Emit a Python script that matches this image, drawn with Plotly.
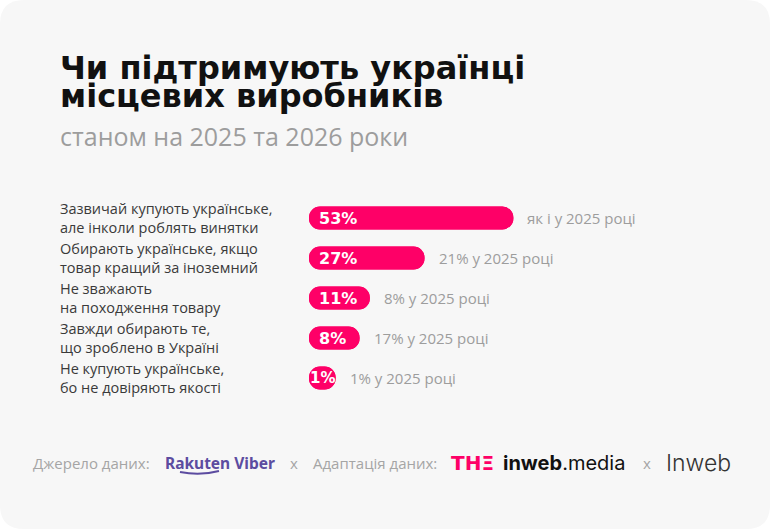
import plotly.graph_objects as go

# ---------------- data ----------------
categories = [
    "Зазвичай купують українське,<br>але інколи роблять винятки",
    "Обирають українське, якщо<br>товар кращий за іноземний",
    "Не зважають<br>на походження товару",
    "Завжди обирають те,<br>що зроблено в Україні",
    "Не купують українське,<br>бо не довіряють якості",
]
values_2026 = [53, 27, 11, 8, 1]
values_2025 = [53, 21, 8, 17, 1]
notes_2025 = ["як і у 2025 році", "21% у 2025 році", "8% у 2025 році",
              "17% у 2025 році", "1% у 2025 році"]

title_lines = ["Чи підтримують українці", "місцевих виробників"]
subtitle = "станом на 2025 та 2026 роки"

# ---------------- layout geometry ----------------
W, H = 770, 529
ML, MT, PW, PH = 309, 197, 365, 202
CAP = 6.8            # rounded-cap offset (style)
XMAX = 100
PINK = "#FE0067"
GREY = "#9d9d9d"
CARD = "#f7f7f7"


def px(x):
    return (x - ML) / PW


def py(y):
    return 1 - (y - MT) / PH


fig = go.Figure()

# bar drawn from the left cap to the value (rounded right end)
fig.add_trace(go.Bar(
    y=categories, x=[v + CAP for v in values_2026], base=[-CAP] * len(values_2026),
    orientation="h", marker=dict(color=PINK, cornerradius=12, line=dict(width=0)),
    hoverinfo="skip", showlegend=False,
))
# same bar drawn backwards from the value (rounded left end)
fig.add_trace(go.Bar(
    y=categories, x=[-(v + CAP) for v in values_2026], base=values_2026,
    orientation="h", marker=dict(color=PINK, cornerradius=12, line=dict(width=0)),
    hoverinfo="skip", showlegend=False,
))

ann = []
# category labels
for cat in categories:
    ann.append(dict(
        x=px(58), xref="paper", y=cat, yref="y", yshift=0,
        text=cat, showarrow=False, xanchor="left", yanchor="middle", align="left",
        font=dict(family="Open Sans", size=14.5, color="#3a3a3a"),
    ))

# value labels inside bars and 2025 comparison
for cat, v, note in zip(categories, values_2026, notes_2025):
    small = v < 3
    ann.append(dict(
        x=(v - CAP) / 2 if small else -CAP, xref="x", y=cat, yref="y",
        xshift=0 if small else 8, text=f"{v}%",
        showarrow=False, xanchor="center" if small else "left", yanchor="middle",
        font=dict(family="DejaVu Sans", size=15 if small else 16, color="white", weight="bold"),
    ))
    ann.append(dict(
        x=v, xref="x", y=cat, yref="y", xshift=12, text=note,
        showarrow=False, xanchor="left", yanchor="middle",
        font=dict(family="Open Sans", size=15, color=GREY),
    ))

# title & subtitle
for i, line in enumerate(title_lines):
    ann.append(dict(x=px(58), y=py(68 + 28 * i), xref="paper", yref="paper", text=line,
                    showarrow=False, xanchor="left", yanchor="middle",
                    font=dict(family="DejaVu Sans", size=32, color="#111111", weight="bold")))
ann.append(dict(x=px(58), y=py(136), xref="paper", yref="paper", text=subtitle,
                showarrow=False, xanchor="left", yanchor="middle",
                font=dict(family="Open Sans", size=25, color=GREY)))

# footer
def foot(x, text, font):
    ann.append(dict(x=px(x), y=py(463), xref="paper", yref="paper", text=text,
                    showarrow=False, xanchor="left", yanchor="middle", font=font))

foot(31, "Джерело даних:", dict(family="Open Sans", size=15, color="#a5a5a5"))
foot(163, "Rakuten Viber", dict(family="Noto Sans", size=15.5, color="#5c4ca0", weight="bold"))
foot(288, "x", dict(family="Open Sans", size=15, color="#a5a5a5"))
foot(311, "Адаптація даних:", dict(family="Open Sans", size=15, color="#a5a5a5"))
foot(449, "THΞ", dict(family="DejaVu Sans", size=20, color=PINK, weight="bold"))
foot(501, "<b>inweb</b>.media", dict(family="Inter", size=20, color="#111111"))
foot(641, "x", dict(family="Open Sans", size=15, color="#a5a5a5"))
foot(664, "Inweb", dict(family="Inter", size=23, color="#333333", weight=300))

# card shape + viber swoosh
r = 24
card_path = (
    f"M {px(r)},{py(0)} L {px(W-r)},{py(0)} Q {px(W)},{py(0)} {px(W)},{py(r)} "
    f"L {px(W)},{py(H-r)} Q {px(W)},{py(H)} {px(W-r)},{py(H)} "
    f"L {px(r)},{py(H)} Q {px(0)},{py(H)} {px(0)},{py(H-r)} "
    f"L {px(0)},{py(r)} Q {px(0)},{py(0)} {px(r)},{py(0)} Z"
)
shapes = [
    dict(type="path", path=card_path, xref="paper", yref="paper",
         fillcolor=CARD, line=dict(width=0), layer="below"),
    dict(type="path", xref="paper", yref="paper",
         path=f"M {px(180)},{py(472)} Q {px(200)},{py(476)} {px(219)},{py(471)}",
         line=dict(color="#5c4ca0", width=2)),
]

fig.update_layout(
    width=W, height=H,
    margin=dict(l=ML, r=W - ML - PW, t=MT, b=H - MT - PH, pad=0),
    paper_bgcolor="white", plot_bgcolor="rgba(0,0,0,0)",
    barmode="overlay", bargap=0.43,
    xaxis=dict(range=[-CAP, XMAX], visible=False, fixedrange=True),
    yaxis=dict(autorange="reversed", visible=False, fixedrange=True),
    annotations=ann, shapes=shapes, showlegend=False,
)

fig.write_html("out.html", config={"displayModeBar": False, "staticPlot": True})
